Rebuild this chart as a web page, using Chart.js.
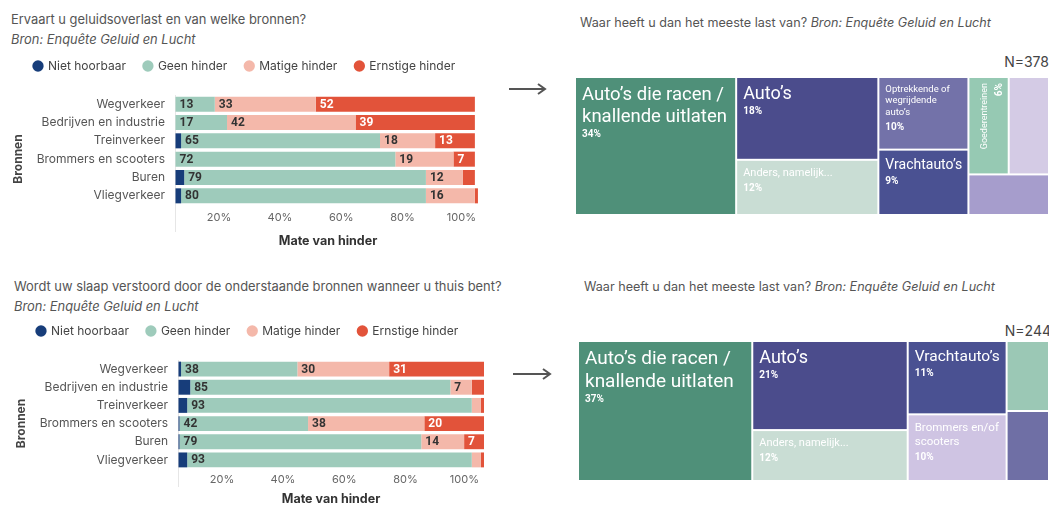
<!DOCTYPE html>
<html>
<head>
<meta charset="utf-8">
<script src="https://cdn.jsdelivr.net/npm/chart.js@4.4.0/dist/chart.umd.min.js"></script>
<style>
  body { margin: 0; width: 1049px; height: 507px; overflow: hidden; background: #fff; position: relative; font-family: Inter, Roboto, sans-serif; }
  .txt { position: absolute; color: #555; font-size: 12.9px; line-height: 1; white-space: nowrap; }
  .src { font-style: italic; }
  .n { position: absolute; color: #444; font-size: 14px; line-height: 1; }
  canvas { position: absolute; }
  svg { position: absolute; left: 0; top: 0; }
</style>
</head>
<body>

<div class="txt" style="left:11px; top:14px;">Ervaart u geluidsoverlast en van welke bronnen?</div>
<div class="txt src" style="left:11px; top:34px;">Bron: Enquête Geluid en Lucht</div>
<div class="txt" style="left:14px; top:281px;">Wordt uw slaap verstoord door de onderstaande bronnen wanneer u thuis bent?</div>
<div class="txt src" style="left:14px; top:301px;">Bron: Enquête Geluid en Lucht</div>

<div class="txt" style="left:580px; top:17px; font-size:12.6px;">Waar heeft u dan het meeste last van? <span class="src">Bron: Enquête Geluid en Lucht</span></div>
<div class="txt" style="left:584px; top:281px; font-size:12.6px;">Waar heeft u dan het meeste last van? <span class="src">Bron: Enquête Geluid en Lucht</span></div>
<div class="n" style="right:0px; top:55px;">N=378</div>
<div class="n" style="right:-2px; top:324px;">N=244</div>

<svg width="1049" height="507">
  <g stroke="#555" stroke-width="2" fill="none">
    <line x1="509" y1="89" x2="545" y2="89"/>
    <polyline points="538,84 545,89 538,94"/>
    <line x1="513" y1="374" x2="550" y2="374"/>
    <polyline points="543,369 550,374 543,379"/>
  </g>
</svg>

<canvas id="overlast" width="500" height="208" style="left:0px; top:42px;"></canvas>
<canvas id="slaap" width="500" height="200" style="left:3px; top:307px;"></canvas>
<canvas id="overlastMap" width="474" height="138" style="left:575px; top:77px;"></canvas>
<canvas id="slaapMap" width="471" height="140" style="left:578px; top:341px;"></canvas>

<script>
// Bronnen en hinderklassen
const sources = ["Wegverkeer", "Bedrijven en industrie", "Treinverkeer", "Brommers en scooters", "Buren", "Vliegverkeer"];
const levels = ["Niet hoorbaar", "Geen hinder", "Matige hinder", "Ernstige hinder"];
const levelColors = ["#173d7a", "#9ecbbb", "#f4b8aa", "#e2533a"];

// Geluidsoverlast (%)
const overlastNiet = [0, 0, 2, 0, 3, 2];
const overlastGeen = [13, 17, 65, 72, 79, 80];
const overlastMatig = [33, 42, 18, 19, 12, 16];
const overlastErnstig = [52, 39, 13, 7, 4, 1];

// Slaapverstoring (%)
const slaapNiet = [1, 4, 3, 0.5, 0.5, 3];
const slaapGeen = [38, 85, 93, 42, 79, 93];
const slaapMatig = [30, 7, 3, 38, 14, 3];
const slaapErnstig = [31, 4, 1, 20, 7, 1];

// Waar heeft u het meeste last van? (N=378)
const overlastCats = ["Auto’s die racen / knallende uitlaten", "Auto’s", "Anders, namelijk...", "Optrekkende of wegrijdende auto’s", "Vrachtauto’s", "Goederentreinen", "", ""];
const overlastPct = [34, 18, 12, 10, 9, 6, 6, 5];
const overlastColumns = [[[0]], [[1], [2]], [[3], [4]], [[5, 6], [7]]];

// Waar heeft u het meeste last van? (N=244)
const slaapCats = ["Auto’s die racen / knallende uitlaten", "Auto’s", "Anders, namelijk...", "Vrachtauto’s", "Brommers en/of scooters", "", ""];
const slaapPct = [37, 21, 12, 11, 10, 4.5, 4.5];
const slaapColumns = [[[0]], [[1], [2]], [[3], [4]], [[5], [6]]];

// Styling for the treemaps (kept apart from the data)
const overlastColors = ["#4f9079", "#4b4c8c", "#c9ddd4", "#7372a9", "#4a5192", "#96c9b3", "#d4cbe5", "#a69dcc"];
const overlastSizes = [18.5, 18, 11, 9.5, 14, 9, 0, 0];
const slaapColors = ["#4f9079", "#4b4c8c", "#c9ddd4", "#4a5192", "#cfc4e3", "#9bc8b5", "#6f6fa5"];
const slaapSizes = [19, 18, 11, 15.5, 11.5, 0, 0];

// Extra room between legend and bars
const legendGap = {
  id: "legendGap",
  beforeInit(chart) {
    if (!chart.legend) return;
    const fit = chart.legend.fit;
    chart.legend.fit = function () {
      fit.call(this);
      this.height = 53;
    };
  }
};

// Value labels at the left of each segment
const valueLabels = {
  id: "valueLabels",
  afterDatasetsDraw(chart) {
    const ctx = chart.ctx;
    ctx.save();
    ctx.font = "bold 12px Roboto";
    ctx.textBaseline = "middle";
    ctx.textAlign = "left";
    chart.data.datasets.forEach((ds, di) => {
      if (di === 0) return;
      const meta = chart.getDatasetMeta(di);
      meta.data.forEach((bar, i) => {
        const v = ds.data[i];
        if (v < 5) return;
        const p = bar.getProps(["x", "y", "base"], true);
        ctx.fillStyle = di === 3 ? "#fff" : "#333";
        ctx.fillText(v, Math.min(p.x, p.base) + 4, p.y + 0.5);
      });
    });
    ctx.restore();
  }
};

function barChart(id, values, cfg) {
  return new Chart(document.getElementById(id), {
    type: "bar",
    data: {
      labels: sources,
      datasets: levels.map((lvl, k) => ({
        label: lvl,
        data: values[k],
        backgroundColor: levelColors[k],
        borderWidth: 0,
        barPercentage: 0.82,
        categoryPercentage: 1
      }))
    },
    options: {
      indexAxis: "y",
      responsive: false,
      animation: false,
      layout: { padding: { left: 16, right: 19, top: 0, bottom: 0 } },
      plugins: {
        tooltip: { enabled: false },
        legend: {
          position: "top",
          align: "start",
          labels: {
            usePointStyle: true,
            pointStyle: "circle",
            boxWidth: 8,
            boxHeight: 8,
            padding: 18,
            color: "#444",
            font: { family: "Inter", size: 12 }
          }
        }
      },
      scales: {
        x: {
          stacked: true,
          min: 0,
          max: 100,
          border: { display: false },
          grid: {
            drawOnChartArea: true,
            tickLength: cfg.tickLength,
            color: (c) => (c.tick && c.tick.value === 0 ? "#e6e6e6" : "rgba(0,0,0,0)")
          },
          ticks: {
            stepSize: 20,
            autoSkip: false,
            maxRotation: 0,
            align: "end",
            labelOffset: -5,
            padding: cfg.tickTop - cfg.tickLength,
            color: "#666",
            font: { family: "Inter", size: 11 },
            callback: (v) => (v === 0 ? "" : v + "%")
          },
          title: {
            display: true,
            text: "Mate van hinder",
            color: "#333",
            font: { family: "Inter", size: 12.5, weight: "bold" },
            padding: { top: 0, bottom: cfg.titlePad }
          },
          afterFit: (scale) => { scale.height = cfg.xHeight; }
        },
        y: {
          stacked: true,
          border: { display: false },
          grid: { display: false, drawTicks: false },
          ticks: {
            padding: 10,
            color: "#555",
            font: { family: "Inter", size: 12 }
          },
          title: {
            display: true,
            text: "Bronnen\u2002\u2002\u2002",
            color: "#444",
            font: { family: "Inter", size: 12, weight: "bold" },
            padding: { top: -5, bottom: 0 }
          },
          afterFit: (scale) => { scale.width = 159; }
        }
      }
    },
    plugins: [legendGap, valueLabels]
  });
}

barChart("overlast", [overlastNiet, overlastGeen, overlastMatig, overlastErnstig],
  { xHeight: 45, tickLength: 27, tickTop: 6.4, titlePad: 1.5 });
barChart("slaap", [slaapNiet, slaapGeen, slaapMatig, slaapErnstig],
  { xHeight: 38, tickLength: 18, tickTop: 4.4, titlePad: 0 });

// Word wrap for treemap labels
function wrap(ctx, text, maxW) {
  const lines = [];
  let line = "";
  text.split(" ").forEach((w) => {
    const test = line ? line + " " + w : w;
    if (line && ctx.measureText(test).width > maxW) {
      lines.push(line);
      line = w;
    } else {
      line = test;
    }
  });
  if (line) lines.push(line);
  return lines;
}

// Treemap drawn on the chart's own linear scales (0-100 both ways)
function treemapPlugin(labels, values, columns, colors, sizes) {
  const total = values.reduce((a, b) => a + b, 0);
  const sum = (idx) => idx.reduce((a, i) => a + values[i], 0);

  function drawCell(ctx, x0, y0, x1, y1, i) {
    ctx.fillStyle = colors[i];
    ctx.fillRect(x0 + 1, y0 + 1, x1 - x0 - 2, y1 - y0 - 2);
    if (!labels[i]) return;
    const w = x1 - x0, h = y1 - y0;
    const size = sizes[i];
    const vertical = w < 45;
    ctx.save();
    ctx.translate(x0, y0);
    ctx.fillStyle = "#fff";
    ctx.textBaseline = "alphabetic";
    ctx.font = size + "px Roboto";
    let px = 7, base = 7 + size * 0.85;
    if (vertical) {
      ctx.rotate(-Math.PI / 2);
      ctx.textAlign = "right";
      px = -6;
      base = 11 + size * 0.85;
    } else {
      ctx.textAlign = "left";
    }
    const lines = wrap(ctx, labels[i], (vertical ? h : w) - 12);
    lines.forEach((ln, k) => ctx.fillText(ln, px, base + k * size * 1.2));
    ctx.font = "bold 10px Roboto";
    ctx.fillText(values[i] + "%", px, base + (lines.length - 1) * size * 1.2 + 15);
    ctx.restore();
  }

  return {
    id: "treemap",
    afterDraw(chart) {
      const { ctx, scales: { x, y } } = chart;
      let cx = 0;
      columns.forEach((col) => {
        const colSum = sum(col.flat());
        const cw = colSum / total * 100;
        let cy = 0;
        col.forEach((row) => {
          const rowSum = sum(row);
          const rh = rowSum / colSum * 100;
          let rx = cx;
          row.forEach((i) => {
            const iw = values[i] / rowSum * cw;
            drawCell(ctx, x.getPixelForValue(rx), y.getPixelForValue(cy),
              x.getPixelForValue(rx + iw), y.getPixelForValue(cy + rh), i);
            rx += iw;
          });
          cy += rh;
        });
        cx += cw;
      });
    }
  };
}

function treemap(id, labels, values, columns, colors, sizes) {
  return new Chart(document.getElementById(id), {
    type: "scatter",
    data: { datasets: [] },
    options: {
      responsive: false,
      animation: false,
      layout: { padding: 0 },
      plugins: { legend: { display: false }, tooltip: { enabled: false } },
      scales: {
        x: { type: "linear", min: 0, max: 100, display: false },
        y: { type: "linear", min: 0, max: 100, reverse: true, display: false }
      }
    },
    plugins: [treemapPlugin(labels, values, columns, colors, sizes)]
  });
}

treemap("overlastMap", overlastCats, overlastPct, overlastColumns, overlastColors, overlastSizes);
treemap("slaapMap", slaapCats, slaapPct, slaapColumns, slaapColors, slaapSizes);
</script>
</body>
</html>
